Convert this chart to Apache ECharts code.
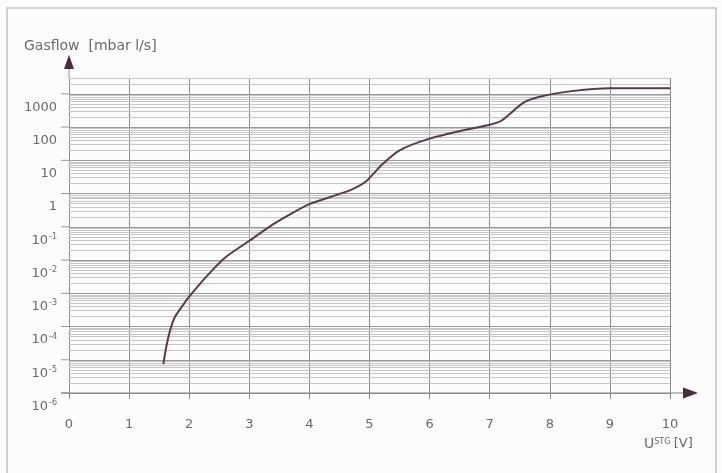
<!DOCTYPE html>
<html>
<head>
<meta charset="utf-8">
<script src="https://cdn.jsdelivr.net/npm/echarts@6/dist/echarts.min.js"></script>
<style>html,body{margin:0;padding:0;background:#fcfcfc}#c{width:722px;height:473px}</style>
</head>
<body>
<div id="c"></div>
<script>
// Data
const voltage = [1.57, 1.62, 1.68, 1.76, 1.9, 2.0, 2.3, 2.6, 3.0, 3.4, 3.7, 4.0, 4.35, 4.7, 4.95, 5.2, 5.5, 6.0, 6.6, 7.0, 7.2, 7.55, 7.8, 8.4, 9.0, 10.0];
const gasflow = [7.4e-6, 2.5e-5, 7.4e-5, 1.9e-4, 4.5e-4, 7.9e-4, 3.4e-3, 0.012, 0.038, 0.12, 0.25, 0.48, 0.79, 1.32, 2.4, 7.2, 20, 45, 83, 117, 158, 525, 794, 1230, 1480, 1480];
const xTicks = [0, 1, 2, 3, 4, 5, 6, 7, 8, 9, 10];
const decadeExponents = [-6, -5, -4, -3, -2, -1, 0, 1, 2, 3];
const yMin = 1e-6, yMax = 3000;
const yAxisName = 'Gasflow  [mbar l/s]';
const xAxisName = '{u|U}{s|STG} {v|[V]}';

const FONT = '"DejaVu Sans", "Liberation Sans", sans-serif';
const TXT = '#6a6a6a';
const ARROW = '#4a2a42';

const curve = voltage.map((v, i) => [v, gasflow[i]]);
const xMin = xTicks[0], xMax = xTicks[xTicks.length - 1];

const minorLines = [], decadeLines = [];
decadeExponents.forEach(k => {
  for (let m = 1; m <= 9; m++) {
    const v = m * Math.pow(10, k);
    if (v > yMax * 1.0001) continue;
    const pair = [{coord: [xMin, v]}, {coord: [xMax, v]}];
    if (m === 1) decadeLines.push(pair); else minorLines.push(pair);
  }
});

function yLabel(val) {
  const e = Math.round(Math.log10(val));
  if (Math.abs(Math.log10(val) - e) > 1e-6) return '';
  if (e >= 0) return String(Math.pow(10, e));
  return '{b|10}{s|' + e + '}';
}

const chart = echarts.init(document.getElementById('c'));
chart.setOption({
  backgroundColor: '#fcfcfc',
  animation: false,
  grid: {left: 69, right: 52, top: 78, bottom: 80, containLabel: false, outerBoundsMode: 'none'},
  xAxis: {
    type: 'value', min: xMin, max: xMax, interval: 1,
    axisLine: {show: false},
    axisTick: {show: true, length: 6, lineStyle: {color: '#8c8c8c'}},
    splitLine: {show: true, lineStyle: {color: '#8e8e8e', width: 1}},
    axisLabel: {margin: 25, color: TXT, fontSize: 13, fontFamily: FONT}
  },
  yAxis: {
    type: 'log', logBase: 10, min: yMin, max: yMax,
    axisLine: {show: false}, axisTick: {show: false}, splitLine: {show: false},
    axisLabel: {
      formatter: yLabel, margin: 12, color: TXT, fontSize: 13, fontFamily: FONT,
      verticalAlign: 'middle', padding: [27, 0, 0, 0],
      rich: {
        b: {fontSize: 13, color: TXT, fontFamily: FONT},
        s: {fontSize: 8, color: TXT, fontFamily: FONT, padding: [0, 0, 7, 1]}
      }
    }
  },
  series: [
    {type: 'line', name: 'minor', data: [], silent: true, z: 1,
     markLine: {silent: true, symbol: 'none', z: 1, label: {show: false},
       lineStyle: {type: 'solid', color: '#c6c6c6', width: 1}, emphasis: {disabled: true},
       data: minorLines}},
    {type: 'line', name: 'decade', data: [], silent: true, z: 1,
     markLine: {silent: true, symbol: 'none', z: 1, label: {show: false},
       lineStyle: {type: 'solid', color: '#9a9a9a', width: 1}, emphasis: {disabled: true},
       data: decadeLines}},
    {type: 'line', name: 'Gasflow', data: curve, z: 5, showSymbol: false, symbol: 'none',
     smooth: 0.22,
     lineStyle: {color: '#5a3a4c', width: 2}}
  ]
});

// Axis decorations (arrows, axis extensions, decade ticks) positioned through the chart's own scales
const px = (x, y) => chart.convertToPixel({gridIndex: 0}, [x, y]);
const g = [];
g.push({type: 'rect', silent: true, shape: {x: 7, y: 8, width: 709, height: 470},
  style: {fill: 'none', stroke: '#c2c2c2', lineWidth: 1.5}});
decadeExponents.forEach(k => {
  const p = px(xMin, Math.pow(10, k));
  g.push({type: 'line', silent: true, z: 2, shape: {x1: p[0] - 8, y1: p[1], x2: p[0], y2: p[1]},
    style: {stroke: '#9a9a9a', lineWidth: 1}});
});
const o = px(xMin, yMin), xe = px(xMax, yMin), ye = px(xMin, yMax);
// x-axis line extended to arrow
g.push({type: 'line', silent: true, z: 3, shape: {x1: o[0] - 8, y1: o[1], x2: xe[0] + 13, y2: o[1]},
  style: {stroke: '#7e7e7e', lineWidth: 1.2}});
g.push({type: 'polygon', silent: true, z: 4,
  shape: {points: [[xe[0] + 13, o[1] - 5.5], [xe[0] + 28, o[1]], [xe[0] + 13, o[1] + 5.5]]},
  style: {fill: ARROW}});
// y-axis line extended to arrow
g.push({type: 'line', silent: true, z: 3, shape: {x1: o[0], y1: ye[1], x2: o[0], y2: ye[1] - 10},
  style: {stroke: '#8e8e8e', lineWidth: 1}});
g.push({type: 'polygon', silent: true, z: 4,
  shape: {points: [[o[0] - 5, ye[1] - 9], [o[0], ye[1] - 23], [o[0] + 5, ye[1] - 9]]},
  style: {fill: ARROW}});
// axis names
g.push({type: 'text', left: 24, top: 39, silent: true,
  style: {text: yAxisName, fill: TXT, font: '14px ' + FONT}});
g.push({type: 'text', left: 644, top: 437, silent: true,
  style: {text: xAxisName, fill: TXT,
    rich: {
      u: {fontSize: 14, fontFamily: FONT, fill: TXT},
      s: {fontSize: 8, fontFamily: FONT, fill: TXT, padding: [0, 0, 5, 0]},
      v: {fontSize: 13, fontFamily: FONT, fill: TXT}
    }}});
chart.setOption({graphic: g});
</script>
</body>
</html>
